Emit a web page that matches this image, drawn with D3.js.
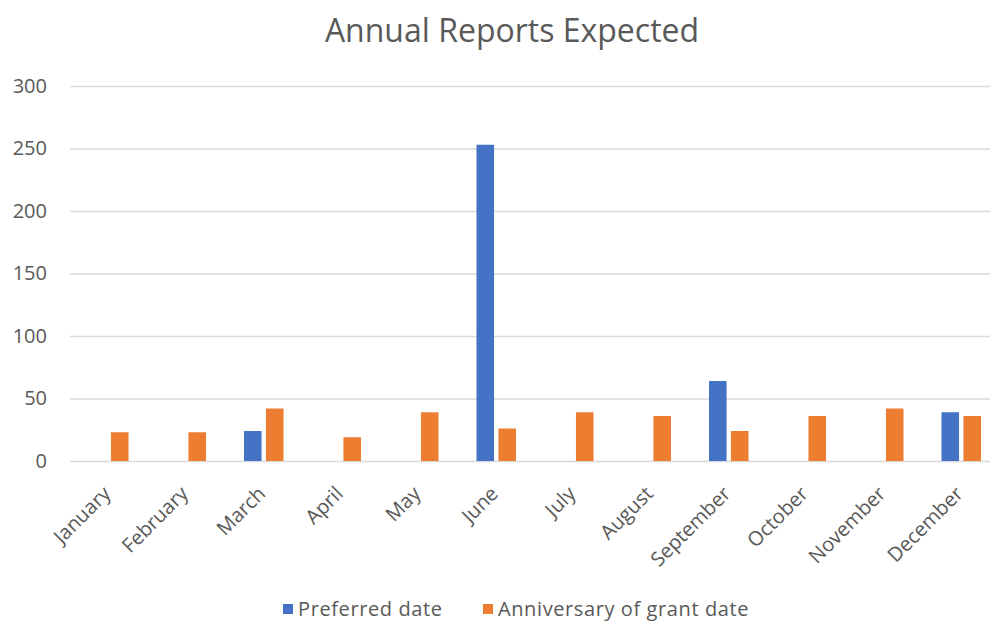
<!DOCTYPE html>
<html>
<head>
<meta charset="utf-8">
<script src="https://cdn.jsdelivr.net/npm/d3@7"></script>
<style>
  body { margin: 0; background: #fff; }
  svg { display: block; }
  text { font-family: "Open Sans", sans-serif; fill: #595959; }
</style>
</head>
<body>
<div id="viz"></div>
<script>
// chart data
var months = ["January", "February", "March", "April", "May", "June",
  "July", "August", "September", "October", "November", "December"];
var seriesNames = ["Preferred date", "Anniversary of grant date"];
var preferred = [0, 0, 24, 0, 0, 253, 0, 0, 64, 0, 0, 39];
var anniversary = [23, 23, 42, 19, 39, 26, 39, 36, 24, 36, 42, 36];
var yTicks = [0, 50, 100, 150, 200, 250, 300];
var colours = ["#4472C4", "#ED7D31"];

var width = 990, height = 623;
var margin = {top: 86, right: -10, bottom: 162, left: 70};

var svg = d3.select("#viz")
  .append("svg")
  .attr("width", width)
  .attr("height", height);

var x0 = d3.scaleBand()
  .domain(months)
  .range([margin.left, width - margin.right])
  .paddingInner(0.49)
  .paddingOuter(0.245);

var x1 = d3.scaleBand()
  .domain(seriesNames)
  .range([0, x0.bandwidth()])
  .paddingInner(0.2);

var y = d3.scaleLinear()
  .domain([0, 300])
  .range([height - margin.bottom, margin.top]);

// title
svg.append("text")
  .attr("x", 512)
  .attr("y", 42)
  .attr("text-anchor", "middle")
  .style("font-size", "32px")
  .text("Annual Reports Expected");

// gridlines + y labels
var yAxis = svg.append("g")
  .attr("transform", "translate(" + margin.left + ",0)")
  .call(d3.axisLeft(y).tickValues(yTicks).tickSize(-(width - margin.left - margin.right)).tickPadding(23));
yAxis.select(".domain").remove();
yAxis.selectAll(".tick line").attr("stroke", "#d9d9d9").attr("stroke-width", 1.5);
yAxis.selectAll(".tick text")
  .style("font-size", "20px")
  .style("font-family", "'Open Sans', sans-serif")
  .attr("fill", "#595959");

// bars
var rows = months.map(function(m, i) {
  return {month: m, values: [
    {name: seriesNames[0], value: preferred[i]},
    {name: seriesNames[1], value: anniversary[i]}
  ]};
});

var groups = svg.selectAll("g.month")
  .data(rows)
  .enter()
  .append("g")
  .attr("class", "month")
  .attr("transform", function(d) { return "translate(" + x0(d.month) + ",0)"; });

groups.selectAll("rect")
  .data(function(d) { return d.values.filter(function(v) { return v.value > 0; }); })
  .enter()
  .append("rect")
  .attr("x", function(d) { return x1(d.name); })
  .attr("y", function(d) { return y(d.value); })
  .attr("width", x1.bandwidth())
  .attr("height", function(d) { return y(0) - y(d.value); })
  .attr("fill", function(d) { return colours[seriesNames.indexOf(d.name)]; });

// x axis labels
var xAxis = svg.append("g")
  .attr("transform", "translate(0," + y(0) + ")")
  .call(d3.axisBottom(x0).tickSize(0).tickPadding(0));
xAxis.select(".domain").remove();
xAxis.selectAll(".tick text")
  .style("font-size", "20px")
  .style("font-family", "'Open Sans', sans-serif")
  .attr("fill", "#595959")
  .attr("text-anchor", "end")
  .attr("dy", null)
  .attr("transform", "translate(3,34) rotate(-45)");

// legend
var legendX = [283, 483];
var legend = svg.selectAll("g.legend")
  .data(seriesNames)
  .enter()
  .append("g")
  .attr("class", "legend")
  .attr("transform", function(d, i) { return "translate(" + legendX[i] + ",604)"; });

legend.append("rect")
  .attr("width", 10)
  .attr("height", 10)
  .attr("fill", function(d, i) { return colours[i]; });

legend.append("text")
  .attr("x", 15)
  .attr("y", 12)
  .style("font-size", "20px")
  .style("letter-spacing", "0.6px")
  .text(function(d) { return d; });
</script>
</body>
</html>
